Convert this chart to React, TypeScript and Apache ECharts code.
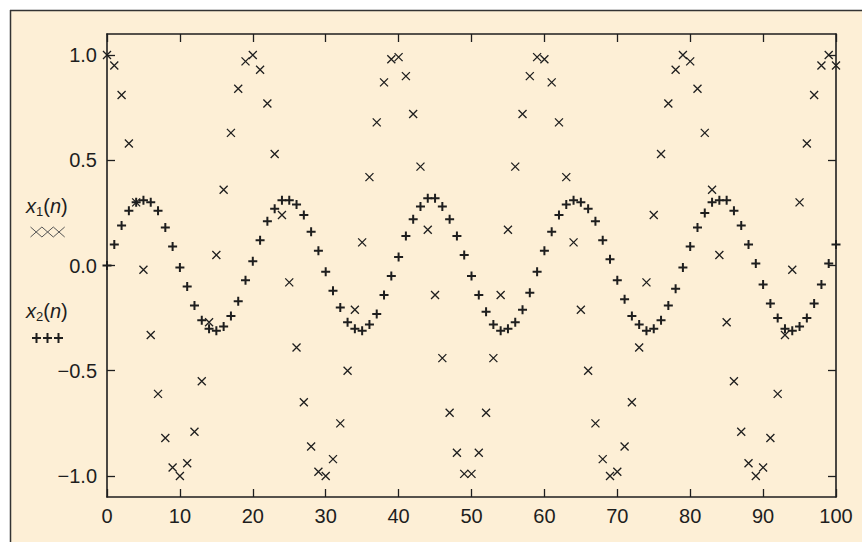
import React, { useEffect, useRef } from "react";
import * as echarts from "echarts";

// x1(n): crosses (n = 0..100)
const x1Values: number[] = [
  1.0, 0.95, 0.81, 0.58, 0.3, -0.02, -0.33, -0.61, -0.82, -0.96,
  -1.0, -0.94, -0.79, -0.55, -0.27, 0.05, 0.36, 0.63, 0.84, 0.97,
  1.0, 0.93, 0.77, 0.53, 0.24, -0.08, -0.39, -0.65, -0.86, -0.98,
  -1.0, -0.92, -0.75, -0.5, -0.21, 0.11, 0.42, 0.68, 0.87, 0.98,
  0.99, 0.9, 0.72, 0.47, 0.17, -0.14, -0.44, -0.7, -0.89, -0.99,
  -0.99, -0.89, -0.7, -0.44, -0.14, 0.17, 0.47, 0.72, 0.9, 0.99,
  0.98, 0.87, 0.68, 0.42, 0.11, -0.21, -0.5, -0.75, -0.92, -1.0,
  -0.98, -0.86, -0.65, -0.39, -0.08, 0.24, 0.53, 0.77, 0.93, 1.0,
  0.97, 0.84, 0.63, 0.36, 0.05, -0.27, -0.55, -0.79, -0.94, -1.0,
  -0.96, -0.82, -0.61, -0.33, -0.02, 0.3, 0.58, 0.81, 0.95, 1.0,
  0.95,
];

// x2(n): pluses (n = 0..100)
const x2Values: number[] = [
  0.0, 0.1, 0.19, 0.26, 0.3, 0.31, 0.3, 0.26, 0.18, 0.09,
  -0.01, -0.1, -0.19, -0.26, -0.3, -0.31, -0.29, -0.24, -0.17, -0.07,
  0.02, 0.12, 0.21, 0.27, 0.31, 0.31, 0.29, 0.24, 0.16, 0.07,
  -0.03, -0.12, -0.2, -0.27, -0.3, -0.31, -0.28, -0.23, -0.14, -0.05,
  0.04, 0.14, 0.22, 0.28, 0.32, 0.32, 0.28, 0.22, 0.14, 0.05,
  -0.05, -0.14, -0.22, -0.28, -0.31, -0.3, -0.27, -0.21, -0.13, -0.03,
  0.07, 0.16, 0.24, 0.29, 0.31, 0.3, 0.27, 0.21, 0.12, 0.03,
  -0.07, -0.16, -0.24, -0.28, -0.31, -0.3, -0.26, -0.19, -0.11, -0.01,
  0.09, 0.18, 0.25, 0.3, 0.31, 0.31, 0.26, 0.19, 0.1, 0.01,
  -0.09, -0.18, -0.25, -0.3, -0.31, -0.29, -0.25, -0.18, -0.09, 0.01,
  0.1,
];

const yTickValues: number[] = [-1.0, -0.5, 0.0, 0.5, 1.0];
const xMin = 0;
const xMax = 100;
const xInterval = 10;
const yMin = -1.1;
const yMax = 1.1;

const BEIGE = "#fdefd6";
const INK = "#1e1e1e";
const FONT = "Liberation Sans, Arial, Helvetica, sans-serif";

function fmtY(v: number): string {
  const s = Math.abs(v).toFixed(1);
  return v < -1e-9 ? "\u2212" + s : s;
}

export default function App() {
  const ref = useRef<HTMLDivElement>(null);

  useEffect(() => {
    if (!ref.current) return;
    const chart = echarts.init(ref.current, undefined, { renderer: "svg" });

    const crossData = x1Values.map((v, i) => [i, v]);
    const plusData = x2Values.map((v, i) => [i, v]);

    const tickStyle = { show: true, inside: true, length: 8, lineStyle: { color: INK, width: 1.3 } };
    const lineStyle = { show: true, onZero: false, lineStyle: { color: INK, width: 1.6 } };

    const legendCross = [0, 1, 2].flatMap((k) => {
      const x0 = 30.5 + k * 11.4;
      return [
        { type: "line", shape: { x1: x0, y1: 227, x2: x0 + 11.4, y2: 237 }, style: { stroke: "#555", lineWidth: 1 } },
        { type: "line", shape: { x1: x0, y1: 237, x2: x0 + 11.4, y2: 227 }, style: { stroke: "#555", lineWidth: 1 } },
      ];
    });
    const legendPlus = [0, 1, 2].flatMap((k) => {
      const cx = 36.5 + k * 11;
      return [
        { type: "line", shape: { x1: cx - 4.5, y1: 338, x2: cx + 4.5, y2: 338 }, style: { stroke: INK, lineWidth: 2 } },
        { type: "line", shape: { x1: cx, y1: 333, x2: cx, y2: 343 }, style: { stroke: INK, lineWidth: 2 } },
      ];
    });

    const richLabel = {
      i: { fontStyle: "italic", fontSize: 20, fontFamily: FONT, fill: INK, lineHeight: 24 },
      r: { fontSize: 20, fontFamily: FONT, fill: INK, lineHeight: 24 },
      s: { fontSize: 13, fontFamily: FONT, fill: INK, lineHeight: 11, verticalAlign: "bottom" },
    };

    chart.setOption({
      animation: false,
      backgroundColor: BEIGE,
      grid: { left: 107, right: 26, top: 34, bottom: 45, containLabel: false, outerBoundsMode: "none" },
      graphic: [
        { type: "rect", silent: true, z: 100, shape: { x: 0, y: 0, width: 10, height: 542 }, style: { fill: "#ffffff" } },
        { type: "rect", silent: true, z: 100, shape: { x: 0, y: 0, width: 862, height: 10 }, style: { fill: "#ffffff" } },
        { type: "line", silent: true, z: 100, shape: { x1: 10.5, y1: 10, x2: 10.5, y2: 542 }, style: { stroke: "#333", lineWidth: 1.5 } },
        { type: "line", silent: true, z: 100, shape: { x1: 10, y1: 10.5, x2: 862, y2: 10.5 }, style: { stroke: "#333", lineWidth: 1.5 } },
        {
          type: "text", silent: true, z: 100, x: 26, y: 206,
          style: { text: "{i|x}{s|1}{r|(}{i|n}{r|)}", rich: richLabel, verticalAlign: "middle", align: "left" },
        },
        {
          type: "text", silent: true, z: 100, x: 26, y: 311,
          style: { text: "{i|x}{s|2}{r|(}{i|n}{r|)}", rich: richLabel, verticalAlign: "middle", align: "left" },
        },
        ...legendCross.map((e) => ({ ...e, silent: true, z: 100 })),
        ...legendPlus.map((e) => ({ ...e, silent: true, z: 100 })),
      ],
      xAxis: [
        {
          type: "value", position: "bottom", min: xMin, max: xMax, interval: xInterval,
          axisLine: lineStyle, axisTick: tickStyle, splitLine: { show: false },
          axisLabel: { color: INK, fontSize: 20, fontFamily: FONT, margin: 9 },
        },
        {
          type: "value", position: "top", min: xMin, max: xMax, interval: xInterval,
          axisLine: lineStyle, axisTick: tickStyle, splitLine: { show: false },
          axisLabel: { show: false },
        },
      ],
      yAxis: [
        {
          type: "value", position: "left", min: yMin, max: yMax,
          axisLine: lineStyle,
          axisTick: { ...tickStyle, customValues: yTickValues },
          splitLine: { show: false },
          axisLabel: { color: INK, fontSize: 20, fontFamily: FONT, margin: 10, customValues: yTickValues, formatter: (v: number) => fmtY(v) },
        },
        {
          type: "value", position: "right", min: yMin, max: yMax,
          axisLine: lineStyle,
          axisTick: { ...tickStyle, customValues: yTickValues },
          splitLine: { show: false },
          axisLabel: { show: false },
        },
      ],
      series: [
        {
          name: "x1(n)", type: "scatter", xAxisIndex: 0, yAxisIndex: 0, silent: true,
          symbol: "path://M0,0L10,10M10,0L0,10", symbolSize: 8,
          itemStyle: { color: "rgba(0,0,0,0)", borderColor: INK, borderWidth: 1.3, opacity: 1 },
          data: crossData, clip: true,
        },
        {
          name: "x2(n)", type: "scatter", xAxisIndex: 0, yAxisIndex: 0, silent: true,
          symbol: "path://M5,0L5,10M0,5L10,5", symbolSize: 9,
          itemStyle: { color: "rgba(0,0,0,0)", borderColor: INK, borderWidth: 2, opacity: 1 },
          data: plusData, clip: true,
        },
      ],
    });

    return () => chart.dispose();
  }, []);

  return <div ref={ref} style={{ position: "fixed", left: 0, top: 0, width: 862, height: 542 }} />;
}
